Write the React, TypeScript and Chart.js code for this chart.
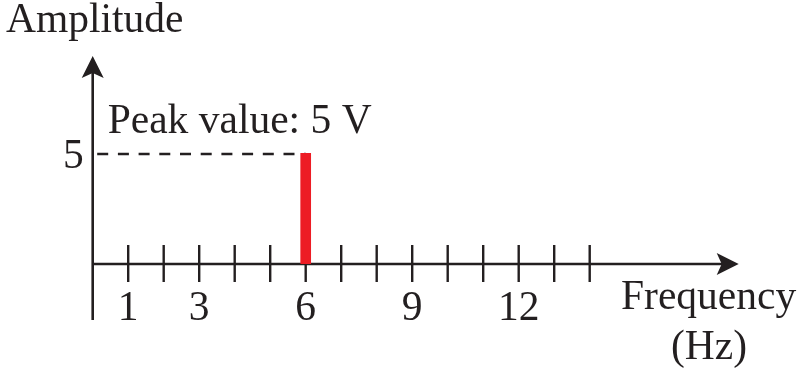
import React, { useEffect, useRef } from "react";
import { Chart, registerables } from "chart.js";

Chart.register(...registerables);

// Spectrum of a single sine component
const frequencies = [6];
const amplitudes = [5];

// Axis ticks and labels
const xTickValues = [1, 2, 3, 4, 5, 6, 7, 8, 9, 10, 11, 12, 13, 14];
const xLabeledTicks = [1, 3, 6, 9, 12];
const yLabeledTicks = [5];
const xTitleLines = ["Frequency", "(Hz)"];
const yTitle = "Amplitude";
const peakNote = "Peak value: 5 V";

const INK = "#231f20";
const RED = "#ed1c24";
const FONT = '41.5px "Liberation Serif", "Times New Roman", serif';

function arrowHead(ctx: CanvasRenderingContext2D, tx: number, ty: number, dir: "up" | "right") {
  const len = 22;
  const half = 11;
  const notch = 17;
  ctx.beginPath();
  if (dir === "up") {
    ctx.moveTo(tx, ty);
    ctx.lineTo(tx + half, ty + len);
    ctx.lineTo(tx, ty + notch);
    ctx.lineTo(tx - half, ty + len);
  } else {
    ctx.moveTo(tx, ty);
    ctx.lineTo(tx - len, ty - half);
    ctx.lineTo(tx - notch, ty);
    ctx.lineTo(tx - len, ty + half);
  }
  ctx.closePath();
  ctx.fill();
}

const axesPlugin = {
  id: "spectrumAxes",
  beforeDatasetsDraw(chart: any) {
    const { ctx, scales } = chart;
    const xs = scales.x;
    const ys = scales.y;
    const x0 = xs.getPixelForValue(0);
    const y0 = ys.getPixelForValue(0);
    const xEnd = xs.getPixelForValue(14) + 149;
    const yTop = ys.getPixelForValue(5) - 97;
    const yBottom = y0 + 56;

    ctx.save();
    ctx.strokeStyle = INK;
    ctx.fillStyle = INK;
    ctx.lineWidth = 2.6;
    ctx.lineCap = "butt";

    // vertical axis
    ctx.beginPath();
    ctx.moveTo(x0, yBottom);
    ctx.lineTo(x0, yTop + 10);
    ctx.stroke();
    arrowHead(ctx, x0, yTop, "up");

    // horizontal axis
    ctx.beginPath();
    ctx.moveTo(x0, y0);
    ctx.lineTo(xEnd - 10, y0);
    ctx.stroke();
    arrowHead(ctx, xEnd, y0, "right");

    // tick marks across the horizontal axis
    ctx.lineWidth = 2.4;
    xTickValues.forEach((v) => {
      const px = xs.getPixelForValue(v);
      ctx.beginPath();
      ctx.moveTo(px, y0 - 19);
      ctx.lineTo(px, y0 + 18);
      ctx.stroke();
    });

    // dashed guide to the peak
    const py = ys.getPixelForValue(amplitudes[0]) + 1;
    ctx.lineWidth = 2.5;
    ctx.setLineDash([11, 9.7]);
    ctx.beginPath();
    ctx.moveTo(x0 + 4.5, py);
    ctx.lineTo(xs.getPixelForValue(frequencies[0]), py);
    ctx.stroke();
    ctx.restore();
  },
  afterDraw(chart: any) {
    const { ctx, scales } = chart;
    const xs = scales.x;
    const ys = scales.y;
    const x0 = xs.getPixelForValue(0);
    const y0 = ys.getPixelForValue(0);

    ctx.save();
    ctx.fillStyle = INK;
    ctx.font = FONT;
    ctx.textBaseline = "alphabetic";

    ctx.textAlign = "center";
    xLabeledTicks.forEach((v) => {
      ctx.fillText(String(v), xs.getPixelForValue(v), y0 + 56);
    });

    ctx.textAlign = "right";
    yLabeledTicks.forEach((v) => {
      ctx.fillText(String(v), x0 - 9, ys.getPixelForValue(v) + 15);
    });

    ctx.textAlign = "left";
    ctx.fillText(yTitle, 6, 32);
    ctx.fillText(peakNote, x0 + 15, ys.getPixelForValue(amplitudes[0]) - 20);
    ctx.fillText(xTitleLines[0], 621, y0 + 45);
    ctx.textAlign = "center";
    ctx.fillText(xTitleLines[1], 709, y0 + 95);
    ctx.restore();
  },
};

export default function App() {
  const canvasRef = useRef<HTMLCanvasElement | null>(null);

  useEffect(() => {
    document.body.style.margin = "0";
    document.body.style.background = "#ffffff";
    const canvas = canvasRef.current;
    if (!canvas) return;

    const chart = new Chart(canvas, {
      type: "bar",
      data: {
        datasets: [
          {
            label: "Amplitude",
            data: frequencies.map((f, i) => ({ x: f, y: amplitudes[i] })),
            backgroundColor: RED,
            borderWidth: 0,
            barThickness: 10,
          },
        ],
      },
      options: {
        responsive: false,
        animation: false,
        devicePixelRatio: 1,
        layout: {
          padding: { left: 92.7, right: 208.3, top: 153, bottom: 104 },
        },
        plugins: {
          legend: { display: false },
          tooltip: { enabled: false },
          title: { display: false },
        },
        scales: {
          x: { type: "linear", min: 0, max: 14, offset: false, display: false },
          y: { type: "linear", min: 0, max: 5, display: false },
        },
      },
      plugins: [axesPlugin],
    });

    return () => chart.destroy();
  }, []);

  return (
    <div style={{ width: 798, height: 368, background: "#ffffff" }}>
      <canvas ref={canvasRef} width={798} height={368} style={{ display: "block" }} />
    </div>
  );
}
